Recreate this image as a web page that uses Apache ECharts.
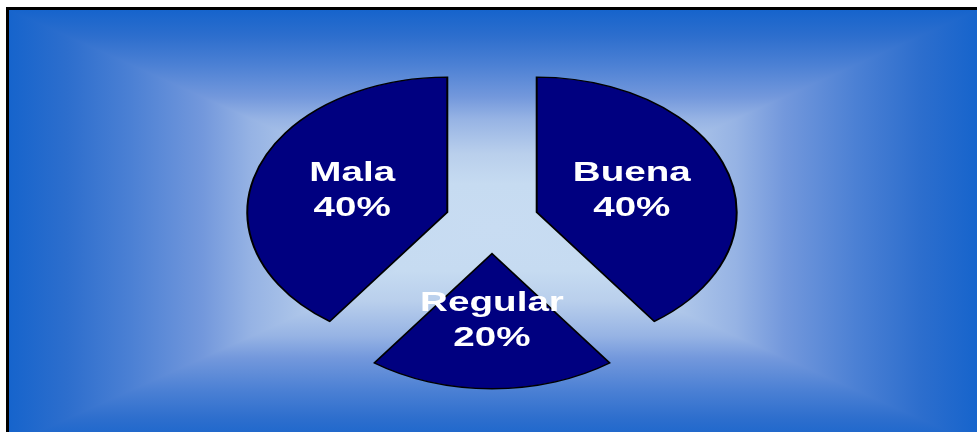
<!DOCTYPE html>
<html>
<head>
<meta charset="utf-8">
<script src="https://cdn.jsdelivr.net/npm/echarts@6/dist/echarts.min.js"></script>
<style>
  html, body { margin: 0; padding: 0; background: #fff; overflow: hidden; }
  #wrap { position: relative; width: 977px; height: 432px; overflow: hidden; }
  /* rectangular "from centre" gradient: darker of a horizontal and a vertical ramp */
  #frame {
    position: absolute; left: 6px; top: 7px; width: 969px; height: 435px;
    border-left: 3px solid #000; border-top: 3px solid #000;
    background-color: #fff;
    background-image:
      linear-gradient(to right, #1664cc 0%, #2d6ecd 6%, #4b80d4 12.5%, #7398dc 20%, #96b3e4 25%, #b9cfec 33%, #c6dbf1 40%, #c8dcf2 50%, #c6dbf1 60%, #b9cfec 67%, #96b3e4 75%, #7398dc 80%, #4b80d4 87.5%, #2d6ecd 94%, #1664cc 100%),
      linear-gradient(to bottom, #1664cc 0%, #2d6ecd 6%, #4b80d4 12.5%, #7398dc 20%, #96b3e4 25%, #b9cfec 33%, #c6dbf1 40%, #c8dcf2 50%, #c6dbf1 60%, #b9cfec 67%, #96b3e4 75%, #7398dc 80%, #4b80d4 87.5%, #2d6ecd 94%, #1664cc 100%);
    background-blend-mode: darken;
  }
  #chart { position: absolute; left: 0; top: 0; width: 977px; height: 432px; }
</style>
</head>
<body>
<div id="wrap">
  <div id="frame"></div>
  <div id="chart"></div>
</div>
<script>
  // data
  const categories = ["Buena", "Regular", "Mala"]
  const values = [40, 20, 40]

  // pie geometry (the original is a squashed, exploded pie)
  const CX = 492
  const CY = 222
  const R = 200
  const SQUASH = 0.675
  const EXPLODE = 47
  const LABEL_POS = 0.5

  const total = values.reduce((a, b) => a + b, 0)

  const chart = echarts.init(document.getElementById("chart"), null, { renderer: "canvas" })

  const renderSlice = (params, api) => {
    const i = params.dataIndex
    let before = 0
    for (let k = 0; k < i; k++) before += values[k]
    const start = -Math.PI / 2 + (before / total) * Math.PI * 2
    const end = start + (api.value(1) / total) * Math.PI * 2
    const mid = (start + end) / 2
    const ox = CX + EXPLODE * Math.cos(mid)
    const oy = CY + EXPLODE * Math.sin(mid)

    const lx = ox + LABEL_POS * R * Math.cos(mid)
    const lyCircle = oy + LABEL_POS * R * Math.sin(mid)
    const ly = CY + (lyCircle - CY) * SQUASH
    const pct = Math.round((api.value(1) / total) * 100) + "%"

    return {
      type: "group",
      children: [
        {
          type: "sector",
          shape: { cx: ox, cy: oy, r: R, r0: 0, startAngle: start, endAngle: end, clockwise: true },
          originX: CX,
          originY: CY,
          scaleY: SQUASH,
          style: { fill: "#000080", stroke: "#000", lineWidth: 2, strokeNoScale: true }
        },
        {
          type: "text",
          x: lx,
          y: ly,
          scaleX: 1.43,
          style: {
            text: categories[i] + "\n" + pct,
            fill: "#fff",
            font: "bold 27px Arial, 'Liberation Sans', sans-serif",
            lineHeight: 35,
            align: "center",
            verticalAlign: "middle"
          }
        }
      ]
    }
  }

  chart.setOption({
    backgroundColor: "transparent",
    animation: false,
    series: [
      {
        type: "custom",
        coordinateSystem: "none",
        renderItem: renderSlice,
        data: categories.map((c, i) => [i, values[i]])
      }
    ]
  })
</script>
</body>
</html>
